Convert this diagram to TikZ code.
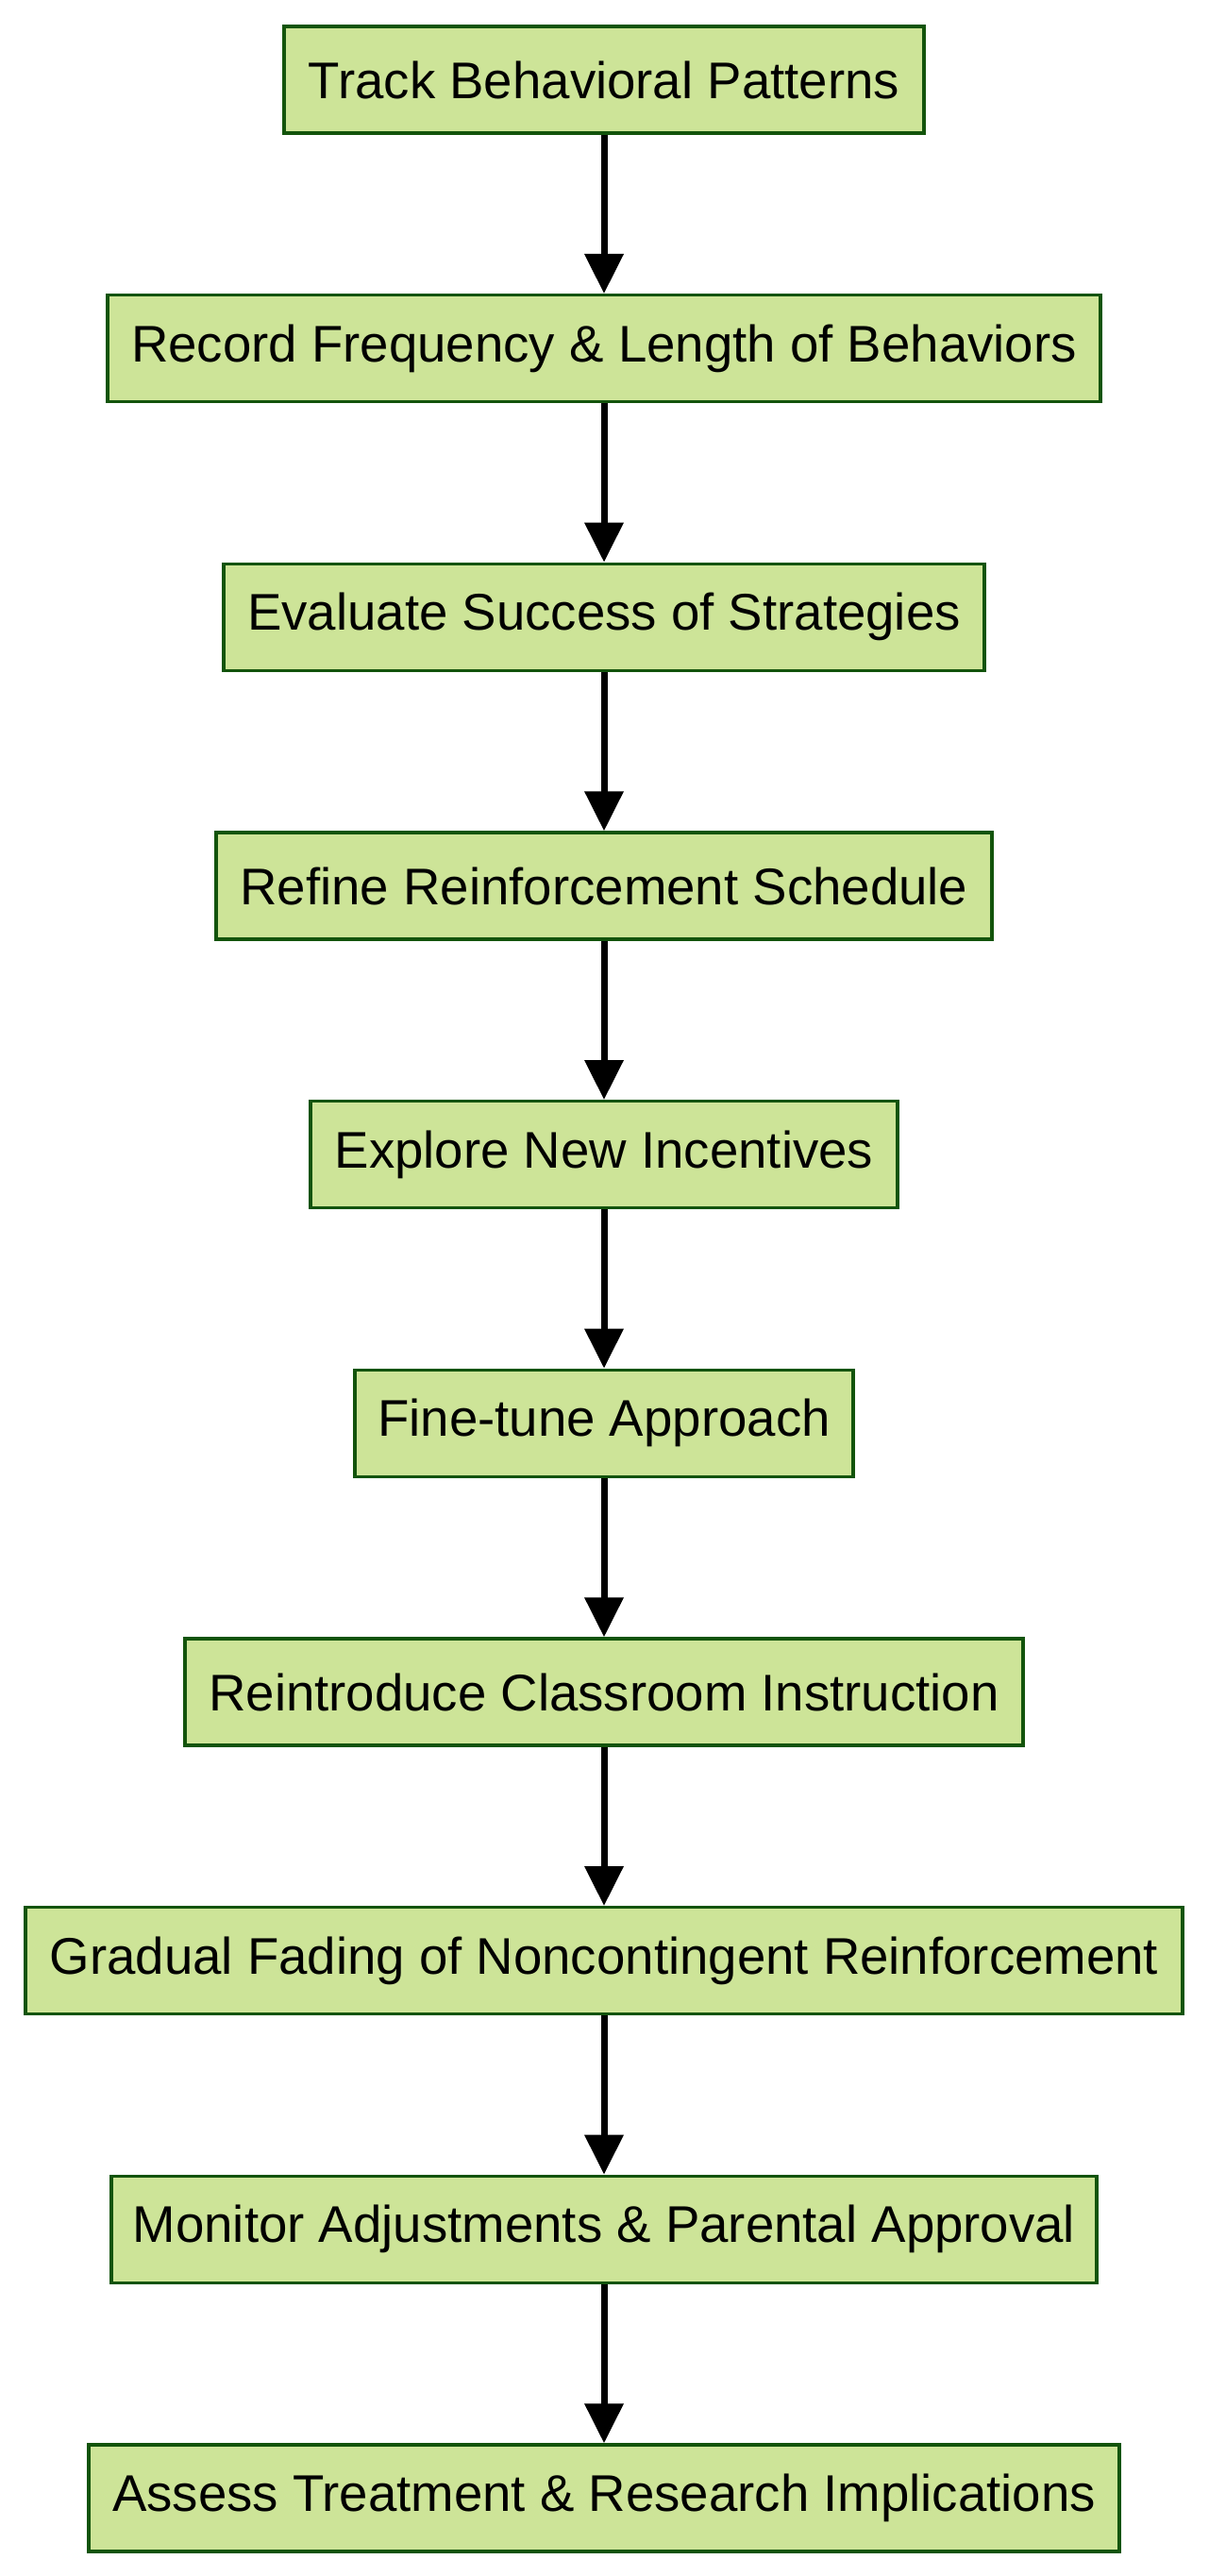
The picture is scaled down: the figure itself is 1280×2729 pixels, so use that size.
\documentclass[tikz,border=0pt]{standalone}
\usepackage{fontspec}
\setmainfont{Liberation Sans}
\usetikzlibrary{arrows.meta}
\definecolor{boxfill}{HTML}{CDE498}
\definecolor{boxline}{HTML}{13540C}
\begin{document}
\begin{tikzpicture}[x=0.5pt,y=-0.5pt,
  stepbox/.style={draw=boxline, fill=boxfill, line width=1.7pt, minimum height=56.5pt, inner sep=0pt, font=\fontsize{27.3}{32}\selectfont},
  flow/.style={line width=3.5pt, -{Triangle[width=20pt,length=21pt]}}]
\useasboundingbox (0,0) rectangle (1280,2729);
\node[stepbox, minimum width=339pt] (n1) at (640,84.5) {Track Behavioral Patterns};
\node[stepbox, minimum width=526pt] (n2) at (640,369.2) {Record Frequency \& Length of Behaviors};
\node[stepbox, minimum width=403pt] (n3) at (640,653.8) {Evaluate Success of Strategies};
\node[stepbox, minimum width=411pt] (n4) at (640,938.5) {Refine Reinforcement Schedule};
\node[stepbox, minimum width=311pt] (n5) at (640,1223.2) {Explore New Incentives};
\node[stepbox, minimum width=264pt] (n6) at (640,1507.8) {Fine-tune Approach};
\node[stepbox, minimum width=444pt] (n7) at (640,1792.5) {Reintroduce Classroom Instruction};
\node[stepbox, minimum width=613pt] (n8) at (640,2077.2) {Gradual Fading of Noncontingent Reinforcement};
\node[stepbox, minimum width=522pt] (n9) at (640,2361.8) {Monitor Adjustments \& Parental Approval};
\node[stepbox, minimum width=546pt] (n10) at (640,2646.5) {Assess Treatment \& Research Implications};
\draw[flow] (n1) -- (n2);
\draw[flow] (n2) -- (n3);
\draw[flow] (n3) -- (n4);
\draw[flow] (n4) -- (n5);
\draw[flow] (n5) -- (n6);
\draw[flow] (n6) -- (n7);
\draw[flow] (n7) -- (n8);
\draw[flow] (n8) -- (n9);
\draw[flow] (n9) -- (n10);
\end{tikzpicture}
\end{document}
